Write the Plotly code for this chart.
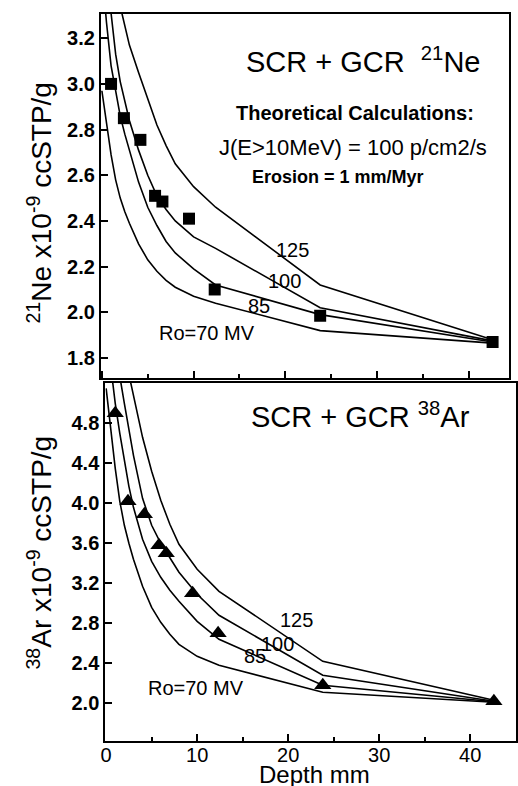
import plotly.graph_objects as go

W, H = 518, 786

# ---------------- data ----------------
# model depth nodes (mm)
DEPTH = [0, 0.5, 1, 1.5, 2, 2.5, 3, 4, 5, 6, 7, 8, 10, 12.4, 23.8, 42.6]

# 21Ne theoretical curves (x10^-9 ccSTP/g) for Ro = 70, 85, 100, 125 MV
NE_70 = [2.97, 2.82, 2.69, 2.58, 2.50, 2.44, 2.39, 2.30, 2.23, 2.18, 2.14, 2.11, 2.07, 2.04, 1.92, 1.865]
NE_85 = [3.50, 3.27, 3.08, 2.96, 2.86, 2.78, 2.71, 2.57, 2.46, 2.38, 2.31, 2.26, 2.19, 2.12, 1.99, 1.87]
NE_100 = [3.75, 3.50, 3.31, 3.13, 3.01, 2.92, 2.84, 2.71, 2.60, 2.51, 2.45, 2.40, 2.33, 2.28, 2.02, 1.875]
NE_125 = [3.85, 3.70, 3.55, 3.43, 3.34, 3.25, 3.17, 3.05, 2.93, 2.82, 2.73, 2.65, 2.55, 2.46, 2.12, 1.88]

# 38Ar theoretical curves
AR_70 = [5.15, 4.75, 4.35, 4.02, 3.78, 3.60, 3.44, 3.17, 2.96, 2.81, 2.69, 2.59, 2.47, 2.38, 2.11, 2.01]
AR_85 = [5.75, 5.35, 5.00, 4.70, 4.42, 4.17, 3.96, 3.64, 3.42, 3.26, 3.13, 3.02, 2.82, 2.64, 2.18, 2.015]
AR_100 = [6.20, 5.88, 5.56, 5.27, 5.00, 4.74, 4.48, 4.05, 3.78, 3.60, 3.45, 3.31, 3.09, 2.88, 2.28, 2.02]
AR_125 = [6.50, 6.24, 5.98, 5.74, 5.50, 5.29, 5.08, 4.66, 4.32, 4.03, 3.79, 3.59, 3.34, 3.12, 2.42, 2.03]

# measured samples
SAMPLE_DEPTH = [1.0, 2.4, 4.2, 5.8, 6.6, 9.5, 12.3, 23.8, 42.6]
NE_MEASURED = [3.00, 2.85, 2.755, 2.51, 2.485, 2.41, 2.10, 1.985, 1.87]
AR_MEASURED = [4.90, 4.02, 3.89, 3.58, 3.50, 3.10, 2.70, 2.18, 2.02]

RO_LABELS = ["Ro=70 MV", "85", "100", "125"]
NE_TICKS = [1.8, 2.0, 2.2, 2.4, 2.6, 2.8, 3.0, 3.2]
AR_TICKS = [2.0, 2.4, 2.8, 3.2, 3.6, 4.0, 4.4, 4.8]
X_TICKS = [0, 10, 20, 30, 40]

FONT = "Liberation Sans, Arial, Helvetica, sans-serif"


def px(x):
    return x / W


def py(y):
    return 1 - y / H


fig = go.Figure()

for vals in (NE_70, NE_85, NE_100, NE_125):
    fig.add_trace(go.Scatter(x=DEPTH, y=vals, mode="lines",
                             line=dict(color="black", width=1.6),
                             xaxis="x", yaxis="y", showlegend=False, hoverinfo="skip"))
fig.add_trace(go.Scatter(x=SAMPLE_DEPTH, y=NE_MEASURED, mode="markers",
                         marker=dict(symbol="square", size=12, color="black"),
                         xaxis="x", yaxis="y", showlegend=False))

for vals in (AR_70, AR_85, AR_100, AR_125):
    fig.add_trace(go.Scatter(x=DEPTH, y=vals, mode="lines",
                             line=dict(color="black", width=1.6),
                             xaxis="x2", yaxis="y2", showlegend=False, hoverinfo="skip"))
fig.add_trace(go.Scatter(x=SAMPLE_DEPTH, y=AR_MEASURED, mode="markers",
                         marker=dict(symbol="triangle-up", size=15, color="black"),
                         xaxis="x2", yaxis="y2", showlegend=False))

axis_common = dict(showline=True, linecolor="black", linewidth=2, mirror=True,
                   ticks="inside", ticklen=7, tickwidth=1.5, tickcolor="black",
                   showgrid=False, zeroline=False)
x_minor = dict(dtick=5, tick0=0, ticks="inside", ticklen=4, tickwidth=1.5, tickcolor="black", showgrid=False)

fig.update_layout(
    width=W, height=H,
    margin=dict(l=0, r=0, t=0, b=0),
    paper_bgcolor="white", plot_bgcolor="white",
    font=dict(family=FONT, color="black", size=20),
    xaxis=dict(axis_common, domain=[px(97), px(510)], range=[-0.11, 44.4],
               anchor="y", tickvals=X_TICKS, showticklabels=False, minor=x_minor),
    yaxis=dict(axis_common, domain=[py(378), py(14)], range=[1.7125, 3.306],
               anchor="x", tickvals=NE_TICKS, tickformat=".1f",
               tickfont=dict(family=FONT, size=20, weight="bold")),
    xaxis2=dict(axis_common, domain=[px(101.5), px(517)], range=[-0.09, 45.03],
                anchor="y2", tickvals=X_TICKS, minor=x_minor, ticklabelstandoff=-5,
                tickfont=dict(family=FONT, size=20)),
    yaxis2=dict(axis_common, domain=[py(741), py(383)], range=[1.623, 5.203],
                anchor="x2", tickvals=AR_TICKS, tickformat=".1f",
                tickfont=dict(family=FONT, size=20, weight="bold")),
)

ann = []
# curve labels, top panel
for txt, x, y in zip(RO_LABELS, [11.5, 17.1, 19.9, 20.8], [1.911, 2.026, 2.135, 2.274]):
    ann.append(dict(text=txt, x=x, y=y, xref="x", yref="y", showarrow=False,
                    font=dict(size=20, family=FONT)))
# curve labels, bottom panel
for txt, x, y in zip(RO_LABELS, [9.9, 16.3, 18.8, 20.9], [2.15, 2.475, 2.59, 2.833]):
    ann.append(dict(text=txt, x=x, y=y, xref="x2", yref="y2", showarrow=False,
                    font=dict(size=20, family=FONT)))

# panel titles and notes
ann += [
    dict(text="SCR + GCR\u00a0\u00a0<sup>21</sup>Ne", x=px(362), y=py(60), font=dict(size=29)),
    dict(text="Theoretical Calculations:", x=px(354), y=py(113), font=dict(size=20, weight="bold")),
    dict(text="J(E>10MeV) = 100 p/cm2/s", x=px(352), y=py(147), font=dict(size=22)),
    dict(text="Erosion = 1 mm/Myr", x=px(337), y=py(177), font=dict(size=18, weight="bold")),
    dict(text="SCR + GCR\u00a0<sup>38</sup>Ar", x=px(360), y=py(415), font=dict(size=29)),
    dict(text="<sup>21</sup>Ne x10<sup>-9</sup> ccSTP/g", x=px(35), y=py(203), textangle=-90,
         font=dict(size=28)),
    dict(text="<sup>38</sup>Ar x10<sup>-9</sup> ccSTP/g", x=px(35), y=py(553), textangle=-90,
         font=dict(size=28)),
    dict(text="Depth mm", x=px(313), y=py(774), font=dict(size=24)),
]
for a in ann[8:]:
    a.update(xref="paper", yref="paper", showarrow=False, xanchor="center", yanchor="middle")
    a["font"] = dict(a["font"], family=FONT, color="black")

fig.update_layout(annotations=ann)
fig.write_html("out.html")
